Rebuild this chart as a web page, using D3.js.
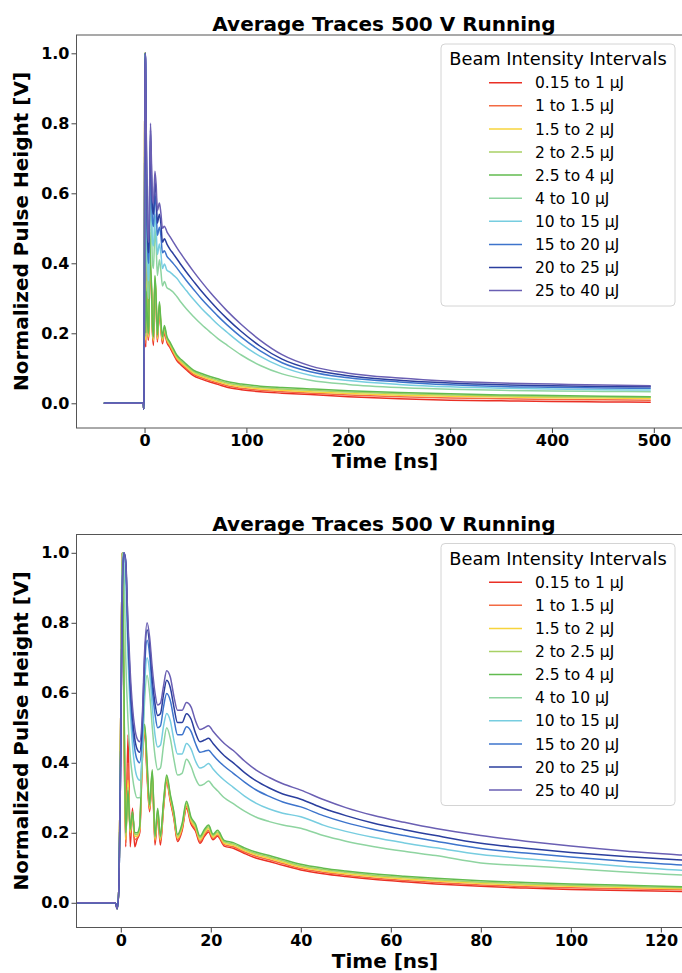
<!DOCTYPE html>
<html>
<head>
<meta charset="utf-8">
<script src="https://cdn.jsdelivr.net/npm/d3@7"></script>
<style>
  html, body { margin: 0; padding: 0; background: #fff; }
  svg { display: block; font-family: "DejaVu Sans", sans-serif; }
</style>
</head>
<body>
<svg id="chart" width="682" height="973"></svg>
<script>
const seriesLabels = ["0.15 to 1 μJ", "1 to 1.5 μJ", "1.5 to 2 μJ", "2 to 2.5 μJ", "2.5 to 4 μJ",
  "4 to 10 μJ", "10 to 15 μJ", "15 to 20 μJ", "20 to 25 μJ", "25 to 40 μJ"];
const seriesColors = ["#ea2f25", "#f36a43", "#f7d43c", "#a8d165", "#62bb4f",
  "#8ed4a0", "#77cde0", "#3d74cc", "#2b3f9e", "#6a5fb3"];

// upper plot: full record, time in ns
const fullTimeNs = [-40, -1.2, -0.8, -0.4, 0, 0.35, 0.7, 1.1, 1.6, 2.6, 3.6, 4.2, 5.0, 5.85, 6.8, 7.8, 8.8, 10.2, 11.4, 12.6,
  14.6, 16.0, 17.6, 19.5, 22, 25, 28, 31.7, 36, 41, 48, 56, 65, 72, 81, 95, 113.6, 135, 162.7, 200,
  250, 300, 350, 400, 450, 497];
const full015to1 = [0, 0, -0.017, 0.05, 0.55, 1.0, 0.52, 0.16, 0.48, 0.27, 0.18, 0.2, 0.46, 0.36, 0.32, 0.2, 0.165, 0.345, 0.28, 0.175,
  0.27, 0.215, 0.17, 0.202, 0.174, 0.159, 0.142, 0.122, 0.109, 0.096, 0.079, 0.069, 0.06, 0.054, 0.046, 0.039, 0.033, 0.029, 0.025, 0.019,
  0.013, 0.009, 0.007, 0.005, 0.004, 0.003];
const full1to15 = [0, 0, -0.017, 0.05, 0.55, 1.0, 0.56, 0.17, 0.40, 0.26, 0.185, 0.205, 0.47, 0.37, 0.325, 0.205, 0.175, 0.35, 0.285, 0.18,
  0.275, 0.22, 0.175, 0.207, 0.178, 0.163, 0.146, 0.126, 0.113, 0.1, 0.083, 0.073, 0.064, 0.058, 0.05, 0.043, 0.037, 0.033, 0.029, 0.024,
  0.019, 0.015, 0.013, 0.011, 0.010, 0.009];
const full15to2 = [0, 0, -0.017, 0.05, 0.55, 1.0, 0.58, 0.18, 0.35, 0.25, 0.19, 0.21, 0.48, 0.38, 0.33, 0.21, 0.18, 0.355, 0.29, 0.185,
  0.28, 0.225, 0.18, 0.212, 0.182, 0.167, 0.15, 0.13, 0.117, 0.104, 0.087, 0.077, 0.068, 0.062, 0.054, 0.047, 0.041, 0.037, 0.033, 0.028,
  0.023, 0.02, 0.018, 0.016, 0.015, 0.014];
const full2to25 = [0, 0, -0.017, 0.05, 0.55, 1.0, 0.6, 0.19, 0.33, 0.255, 0.195, 0.215, 0.49, 0.39, 0.335, 0.215, 0.185, 0.36, 0.295, 0.19,
  0.285, 0.23, 0.185, 0.217, 0.186, 0.171, 0.154, 0.134, 0.121, 0.108, 0.091, 0.081, 0.072, 0.066, 0.058, 0.051, 0.045, 0.041, 0.037, 0.032,
  0.027, 0.024, 0.021, 0.019, 0.018, 0.017];
const full25to4 = [0, 0, -0.017, 0.05, 0.55, 1.0, 0.62, 0.20, 0.32, 0.26, 0.20, 0.22, 0.50, 0.40, 0.34, 0.22, 0.19, 0.365, 0.30, 0.195,
  0.29, 0.235, 0.19, 0.222, 0.19, 0.175, 0.158, 0.138, 0.125, 0.112, 0.095, 0.085, 0.076, 0.07, 0.062, 0.055, 0.049, 0.045, 0.041, 0.036,
  0.031, 0.027, 0.024, 0.022, 0.020, 0.019];
const full4to10 = [0, 0, -0.017, 0.05, 0.45, 1.0, 0.95, 0.70, 0.52, 0.36, 0.30, 0.30, 0.48, 0.65, 0.52, 0.40, 0.385, 0.50, 0.45, 0.365,
  0.41, 0.38, 0.335, 0.348, 0.33, 0.325, 0.318, 0.305, 0.288, 0.27, 0.248, 0.225, 0.202, 0.185, 0.166, 0.138, 0.108, 0.084, 0.066, 0.054,
  0.045, 0.04, 0.037, 0.035, 0.034, 0.033];
const full10to15 = [0, 0, -0.017, 0.05, 0.45, 0.92, 1.0, 0.92, 0.70, 0.45, 0.36, 0.35, 0.52, 0.70, 0.58, 0.46, 0.45, 0.541, 0.50, 0.425,
  0.455, 0.43, 0.385, 0.398, 0.38, 0.375, 0.367, 0.357, 0.34, 0.322, 0.297, 0.271, 0.245, 0.225, 0.203, 0.17, 0.134, 0.104, 0.08, 0.065,
  0.054, 0.047, 0.043, 0.041, 0.039, 0.038];
const full15to20 = [0, 0, -0.017, 0.05, 0.45, 0.90, 1.0, 0.97, 0.75, 0.50, 0.41, 0.40, 0.57, 0.75, 0.63, 0.52, 0.505, 0.598, 0.56, 0.48,
  0.503, 0.48, 0.43, 0.436, 0.42, 0.41, 0.40, 0.387, 0.37, 0.351, 0.326, 0.298, 0.27, 0.249, 0.224, 0.189, 0.15, 0.116, 0.09, 0.073,
  0.061, 0.053, 0.048, 0.046, 0.044, 0.043];
const full20to25 = [0, 0, -0.017, 0.05, 0.45, 0.90, 1.0, 0.98, 0.78, 0.53, 0.44, 0.43, 0.60, 0.78, 0.66, 0.555, 0.54, 0.636, 0.595, 0.515,
  0.54, 0.515, 0.46, 0.47, 0.455, 0.44, 0.428, 0.413, 0.395, 0.375, 0.349, 0.32, 0.29, 0.268, 0.242, 0.205, 0.163, 0.126, 0.098, 0.079,
  0.066, 0.058, 0.053, 0.05, 0.048, 0.047];
const full25to40 = [0, 0, -0.017, 0.05, 0.45, 0.93, 1.0, 0.97, 0.80, 0.56, 0.47, 0.46, 0.62, 0.80, 0.69, 0.585, 0.57, 0.663, 0.625, 0.55,
  0.572, 0.545, 0.50, 0.506, 0.49, 0.476, 0.462, 0.445, 0.426, 0.405, 0.377, 0.347, 0.315, 0.292, 0.264, 0.225, 0.18, 0.139, 0.107, 0.086,
  0.072, 0.063, 0.058, 0.055, 0.052, 0.050];

// lower plot: first 125 ns, time in ns
const zoomTimeNs = [-40, -10, -1.2, -0.8, -0.4, 0, 0.35, 0.7, 1.1, 1.6, 2.1, 2.6, 3.1, 3.6, 4.2, 4.8, 5.3, 5.85, 6.4, 7.0,
  7.6, 8.2, 8.8, 9.5, 10.2, 11.0, 11.8, 12.6, 13.6, 14.6, 15.6, 16.6, 17.6, 18.6, 19.5, 20.5, 21.5, 23, 25, 27.5,
  30, 33, 36, 40, 45, 50, 56, 63, 70, 80, 90, 100, 112, 125, 140];
const zoom015to1 = [0, 0, 0, -0.017, 0.05, 0.55, 1.0, 0.52, 0.16, 0.48, 0.16, 0.27, 0.16, 0.18, 0.2, 0.41, 0.49, 0.36, 0.26, 0.36,
  0.165, 0.25, 0.165, 0.27, 0.345, 0.29, 0.24, 0.175, 0.205, 0.27, 0.225, 0.205, 0.17, 0.19, 0.202, 0.18, 0.19, 0.162, 0.156, 0.141,
  0.128, 0.118, 0.107, 0.094, 0.083, 0.075, 0.067, 0.06, 0.054, 0.047, 0.042, 0.038, 0.035, 0.032, 0.027];
const zoom1to15 = [0, 0, 0, -0.017, 0.05, 0.55, 1.0, 0.56, 0.17, 0.40, 0.19, 0.26, 0.18, 0.185, 0.205, 0.42, 0.495, 0.37, 0.265, 0.365,
  0.175, 0.255, 0.175, 0.275, 0.35, 0.295, 0.245, 0.18, 0.21, 0.275, 0.23, 0.21, 0.175, 0.195, 0.207, 0.184, 0.194, 0.166, 0.16, 0.145,
  0.133, 0.123, 0.112, 0.098, 0.087, 0.079, 0.071, 0.064, 0.058, 0.051, 0.046, 0.043, 0.040, 0.037, 0.032];
const zoom15to2 = [0, 0, 0, -0.017, 0.05, 0.55, 1.0, 0.58, 0.18, 0.35, 0.2, 0.25, 0.19, 0.19, 0.21, 0.43, 0.50, 0.38, 0.27, 0.37,
  0.18, 0.26, 0.18, 0.28, 0.355, 0.30, 0.25, 0.185, 0.215, 0.28, 0.235, 0.215, 0.18, 0.2, 0.212, 0.188, 0.198, 0.17, 0.164, 0.149,
  0.137, 0.127, 0.116, 0.102, 0.091, 0.083, 0.075, 0.068, 0.062, 0.055, 0.05, 0.047, 0.044, 0.04, 0.036];
const zoom2to25 = [0, 0, 0, -0.017, 0.05, 0.55, 1.0, 0.6, 0.19, 0.33, 0.205, 0.255, 0.195, 0.195, 0.215, 0.44, 0.505, 0.39, 0.275, 0.375,
  0.185, 0.265, 0.185, 0.285, 0.36, 0.305, 0.255, 0.19, 0.22, 0.285, 0.24, 0.22, 0.185, 0.205, 0.217, 0.192, 0.202, 0.174, 0.168, 0.153,
  0.141, 0.131, 0.12, 0.106, 0.095, 0.087, 0.079, 0.072, 0.066, 0.059, 0.054, 0.05, 0.047, 0.043, 0.04];
const zoom25to4 = [0, 0, 0, -0.017, 0.05, 0.55, 1.0, 0.62, 0.20, 0.32, 0.21, 0.26, 0.20, 0.20, 0.22, 0.45, 0.51, 0.40, 0.28, 0.38,
  0.19, 0.27, 0.19, 0.29, 0.365, 0.31, 0.26, 0.195, 0.225, 0.29, 0.245, 0.225, 0.19, 0.21, 0.222, 0.196, 0.207, 0.178, 0.172, 0.157,
  0.145, 0.135, 0.124, 0.11, 0.099, 0.091, 0.083, 0.076, 0.07, 0.063, 0.058, 0.054, 0.050, 0.046, 0.043];
const zoom4to10 = [0, 0, 0, -0.017, 0.05, 0.45, 1.0, 0.95, 0.70, 0.52, 0.42, 0.36, 0.32, 0.30, 0.30, 0.42, 0.58, 0.65, 0.60, 0.50,
  0.42, 0.38, 0.385, 0.45, 0.50, 0.47, 0.41, 0.365, 0.37, 0.41, 0.39, 0.355, 0.335, 0.34, 0.348, 0.333, 0.32, 0.30, 0.283, 0.262,
  0.245, 0.232, 0.222, 0.213, 0.192, 0.176, 0.161, 0.147, 0.135, 0.114, 0.106, 0.098, 0.088, 0.079, 0.073];
const zoom10to15 = [0, 0, 0, -0.017, 0.05, 0.45, 0.92, 1.0, 0.92, 0.70, 0.55, 0.45, 0.39, 0.36, 0.35, 0.44, 0.62, 0.70, 0.66, 0.56,
  0.48, 0.445, 0.45, 0.505, 0.541, 0.52, 0.465, 0.425, 0.425, 0.455, 0.44, 0.405, 0.385, 0.39, 0.398, 0.382, 0.368, 0.35, 0.33, 0.305,
  0.285, 0.268, 0.256, 0.246, 0.222, 0.204, 0.187, 0.171, 0.157, 0.138, 0.126, 0.116, 0.104, 0.093, 0.087];
const zoom15to20 = [0, 0, 0, -0.017, 0.05, 0.45, 0.90, 1.0, 0.97, 0.75, 0.60, 0.50, 0.44, 0.41, 0.40, 0.49, 0.67, 0.75, 0.71, 0.61,
  0.54, 0.50, 0.505, 0.56, 0.598, 0.578, 0.525, 0.48, 0.48, 0.503, 0.49, 0.455, 0.43, 0.433, 0.436, 0.422, 0.408, 0.39, 0.37, 0.345,
  0.323, 0.304, 0.288, 0.274, 0.249, 0.229, 0.21, 0.192, 0.176, 0.155, 0.142, 0.131, 0.119, 0.108, 0.100];
const zoom20to25 = [0, 0, 0, -0.017, 0.05, 0.45, 0.90, 1.0, 0.98, 0.78, 0.63, 0.53, 0.47, 0.44, 0.43, 0.52, 0.70, 0.78, 0.74, 0.64,
  0.57, 0.535, 0.54, 0.595, 0.636, 0.615, 0.56, 0.515, 0.515, 0.54, 0.525, 0.485, 0.46, 0.465, 0.47, 0.455, 0.44, 0.42, 0.40, 0.372,
  0.349, 0.328, 0.311, 0.296, 0.27, 0.249, 0.228, 0.209, 0.192, 0.170, 0.156, 0.144, 0.132, 0.122, 0.112];
const zoom25to40 = [0, 0, 0, -0.017, 0.05, 0.45, 0.93, 1.0, 0.97, 0.80, 0.66, 0.56, 0.50, 0.47, 0.46, 0.54, 0.72, 0.80, 0.76, 0.67,
  0.60, 0.565, 0.57, 0.62, 0.663, 0.645, 0.59, 0.55, 0.55, 0.572, 0.56, 0.52, 0.495, 0.50, 0.506, 0.49, 0.475, 0.455, 0.435, 0.405,
  0.38, 0.358, 0.34, 0.322, 0.295, 0.272, 0.25, 0.23, 0.212, 0.192, 0.176, 0.162, 0.148, 0.136, 0.124];

const yTicks = [0.0, 0.2, 0.4, 0.6, 0.8, 1.0];
const fullXTicks = [0, 100, 200, 300, 400, 500];
const zoomXTicks = [0, 20, 40, 60, 80, 100, 120];

const titleText = "Average Traces 500 V Running";
const legendTitle = "Beam Intensity Intervals";

const svg = d3.select("#chart");

const panels = [
  {id: "full", top: 35, bottom: 428, xDomain: [-66.8, 536.5], xTicks: fullXTicks, time: fullTimeNs,
    series: [full015to1, full1to15, full15to2, full2to25, full25to4, full4to10, full10to15, full15to20, full20to25, full25to40]},
  {id: "zoom", top: 534.5, bottom: 927.5, xDomain: [-9.84, 126.7], xTicks: zoomXTicks, time: zoomTimeNs,
    series: [zoom015to1, zoom1to15, zoom15to2, zoom2to25, zoom25to4, zoom4to10, zoom10to15, zoom15to20, zoom20to25, zoom25to40]}
];
const left = 76.5, right = 691;

panels.forEach(p => {
  const g = svg.append("g");
  const x = d3.scaleLinear().domain(p.xDomain).range([left, right]);
  const y = d3.scaleLinear().domain([-0.0706, 1.0523]).range([p.bottom, p.top]);

  g.append("clipPath").attr("id", "clip-" + p.id)
    .append("rect")
    .attr("x", left).attr("y", p.top)
    .attr("width", right - left).attr("height", p.bottom - p.top);

  const line = d3.line()
    .x(d => x(d[0]))
    .y(d => y(d[1]))
    .curve(d3.curveMonotoneX);

  g.append("g")
    .attr("clip-path", `url(#clip-${p.id})`)
    .selectAll("path")
    .data(p.series)
    .join("path")
    .attr("fill", "none")
    .attr("stroke", (d, i) => seriesColors[i])
    .attr("stroke-width", 1.5)
    .attr("d", vals => line(vals.map((v, i) => [p.time[i], v])));

  // axes
  const yAxis = g.append("g")
    .attr("transform", `translate(${left},0)`)
    .call(d3.axisLeft(y).tickValues(yTicks).tickFormat(d3.format(".1f")).tickSize(5).tickPadding(2).tickSizeOuter(0));
  const xAxis = g.append("g")
    .attr("transform", `translate(0,${p.bottom})`)
    .call(d3.axisBottom(x).tickValues(p.xTicks).tickFormat(d3.format("d")).tickSize(5).tickPadding(2).tickSizeOuter(0));

  [yAxis, xAxis].forEach(a => {
    a.select(".domain").remove();
    a.selectAll("line").attr("stroke", "#444");
    a.selectAll("text")
      .attr("fill", "#000")
      .style("font-family", "DejaVu Sans")
      .style("font-size", "16px")
      .style("font-weight", "bold");
  });

  g.append("rect")
    .attr("x", left).attr("y", p.top)
    .attr("width", right - left).attr("height", p.bottom - p.top)
    .attr("fill", "none")
    .attr("stroke", "#555")
    .attr("stroke-width", 1);

  g.append("text")
    .attr("x", 384).attr("y", p.top - 4)
    .attr("text-anchor", "middle")
    .style("font-size", "20px").style("font-weight", "bold")
    .text(titleText);

  g.append("text")
    .attr("x", 385).attr("y", p.bottom + 40)
    .attr("text-anchor", "middle")
    .style("font-size", "20px").style("font-weight", "bold")
    .text("Time [ns]");

  g.append("text")
    .attr("transform", `translate(28,${(p.top + p.bottom) / 2}) rotate(-90)`)
    .attr("text-anchor", "middle")
    .style("font-size", "20px").style("font-weight", "bold")
    .text("Normalized Pulse Height [V]");

  // legend, upper right
  const lg = g.append("g").attr("transform", `translate(441,${p.top + 9})`);
  lg.append("rect")
    .attr("width", 234).attr("height", 262)
    .attr("rx", 4)
    .attr("fill", "#fff").attr("fill-opacity", 0.8)
    .attr("stroke", "#d4d4d4");
  lg.append("text")
    .attr("x", 117).attr("y", 21)
    .attr("text-anchor", "middle")
    .style("font-size", "17.8px")
    .text(legendTitle);
  const rows = lg.selectAll("g.row")
    .data(seriesLabels)
    .join("g")
    .attr("class", "row")
    .attr("transform", (d, i) => `translate(0,${38.7 + i * 23.1})`);
  rows.append("line")
    .attr("x1", 48).attr("x2", 81)
    .attr("stroke", (d, i) => seriesColors[i])
    .attr("stroke-width", 1.5);
  rows.append("text")
    .attr("x", 94).attr("y", 5.6)
    .style("font-size", "15.5px")
    .text(d => d);
});
</script>
</body>
</html>
